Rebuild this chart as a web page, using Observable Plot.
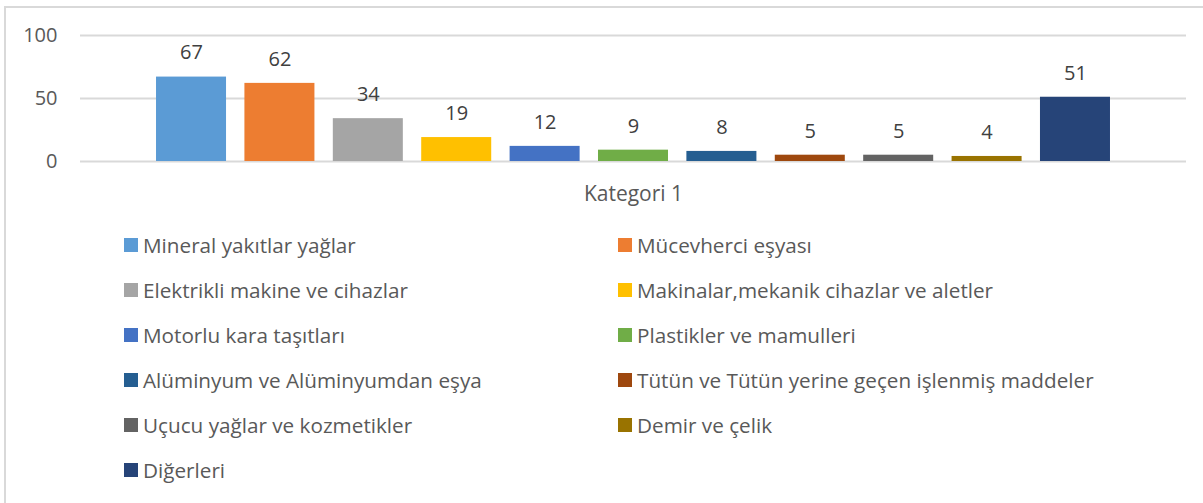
<!DOCTYPE html>
<html>
<head>
<meta charset="utf-8">
<script src="https://cdn.jsdelivr.net/npm/d3@7"></script>
<script src="https://cdn.jsdelivr.net/npm/@observablehq/plot@0.6"></script>
<style>
  html, body { margin: 0; padding: 0; background: #fff; overflow: hidden; width: 1203px; height: 503px; }
  #frame { position: absolute; left: 4px; top: 6px; width: 1220px; height: 520px; border: 2px solid #d9d9d9; box-sizing: border-box; }
  #chart { position: absolute; left: 0; top: 0; }
  #legend { position: absolute; left: 124px; top: 222px; display: grid; grid-template-columns: 494px 494px; grid-auto-rows: 45px;
    font-family: "Open Sans", Lato, sans-serif; font-size: 20.7px; color: #595959; }
  .item { display: flex; align-items: center; height: 45px; white-space: nowrap; }
  .sw { width: 14px; height: 14px; margin-right: 5px; flex: none; }
</style>
</head>
<body>
<div id="frame"></div>
<div id="chart"></div>
<div id="legend"></div>
<script>
const categories = [
  "Mineral yakıtlar yağlar",
  "Mücevherci eşyası",
  "Elektrikli makine ve cihazlar",
  "Makinalar,mekanik cihazlar ve aletler",
  "Motorlu kara taşıtları",
  "Plastikler ve mamulleri",
  "Alüminyum ve Alüminyumdan eşya",
  "Tütün ve Tütün yerine geçen işlenmiş maddeler",
  "Uçucu yağlar ve kozmetikler",
  "Demir ve çelik",
  "Diğerleri"
];
const values = [67, 62, 34, 19, 12, 9, 8, 5, 5, 4, 51];
const colors = ["#5B9BD5", "#ED7D31", "#A5A5A5", "#FFC000", "#4472C4", "#70AD47", "#255E91", "#9E480E", "#636363", "#997300", "#264478"];
const yTicks = [0, 50, 100];
const groupLabel = "Kategori 1";

const data = categories.map((c, i) => ({name: c, value: values[i]}));
const font = "'Open Sans', Lato, sans-serif";

const plot = Plot.plot({
  width: 1203,
  height: 210,
  marginLeft: 80,
  marginRight: 17,
  marginTop: 35,
  marginBottom: 49,
  style: {fontFamily: font, fontSize: "20px", color: "#595959", background: "transparent"},
  x: {domain: categories, type: "band", paddingInner: 0.208, paddingOuter: 0.86, round: false, axis: null},
  y: {domain: [0, 100], ticks: yTicks, tickSize: 0, tickPadding: 23, label: null},
  color: {domain: categories, range: colors},
  marks: [
    Plot.ruleY(yTicks, {stroke: "#d9d9d9", strokeWidth: 2}),
    Plot.barY(data, {x: "name", y: "value", fill: "name"}),
    Plot.text(data, {x: "name", y: "value", text: d => String(d.value), dy: -24, fill: "#404040", fontSize: 20}),
    Plot.text([groupLabel], {frameAnchor: "bottom", dy: 39, fill: "#595959", fontSize: 21})
  ]
});
document.getElementById("chart").appendChild(plot);

const legend = document.getElementById("legend");
categories.forEach((c, i) => {
  const item = document.createElement("div");
  item.className = "item";
  const sw = document.createElement("span");
  sw.className = "sw";
  sw.style.background = colors[i];
  const t = document.createElement("span");
  t.textContent = c;
  item.appendChild(sw);
  item.appendChild(t);
  legend.appendChild(item);
});
</script>
</body>
</html>
